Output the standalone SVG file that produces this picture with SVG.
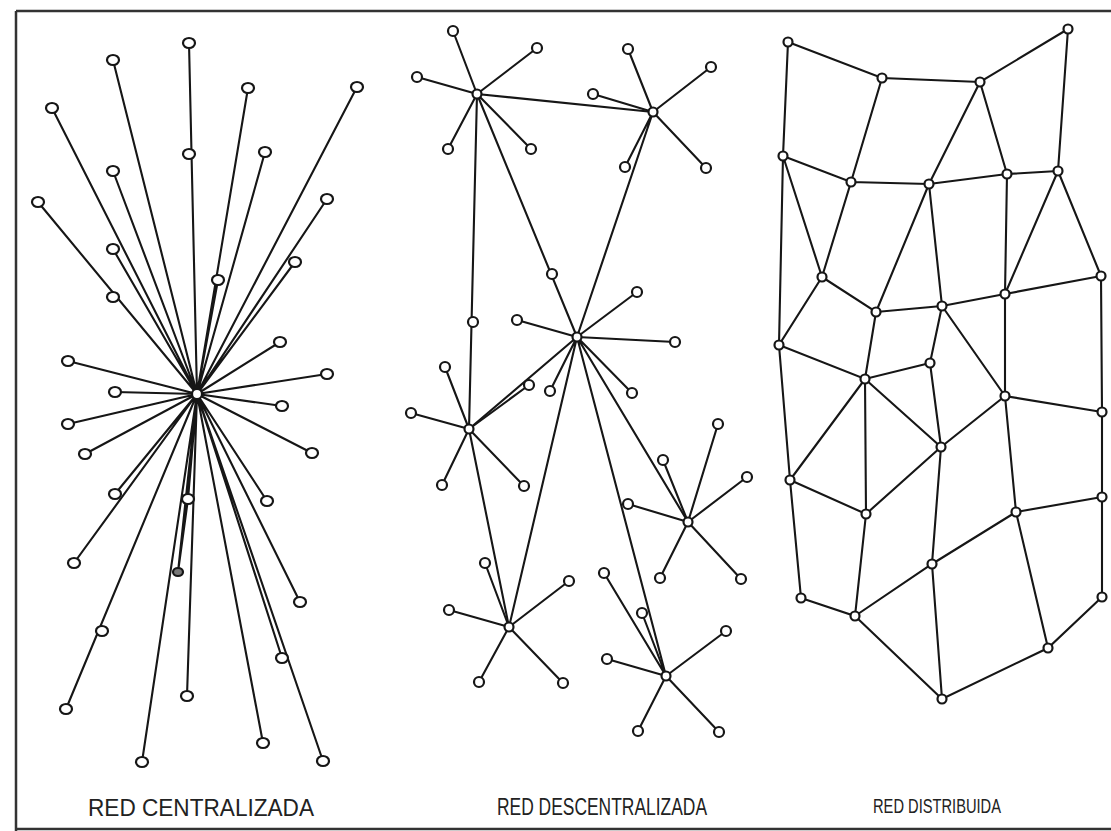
<svg xmlns="http://www.w3.org/2000/svg" width="1111" height="831" viewBox="0 0 1111 831">
<style>
.e{stroke:#161616;stroke-width:2.1;fill:none;stroke-linecap:round}
.n{fill:#fff;stroke:#161616;stroke-width:2.2}
.lab{font-family:"Liberation Sans Narrow","Liberation Sans",Arial,sans-serif;fill:#222}
</style>
<rect width="1111" height="831" fill="#fff"/>
<g id="frame" stroke="#333" stroke-width="2.5" fill="none">
<path d="M16,11 H1111 M16,11 V831 M16,829 H1111"/>
</g>
<g id="connectors" class="e">
<path d="M197,394 L189,43 M197,394 L113,60 M197,394 L52,108 M197,394 L248,88 M197,394 L357,87 M197,394 L265,152 M197,394 L113,171 M197,394 L38,202 M197,394 L327,199 M197,394 L113,249 M197,394 L295,262 M197,394 L218,280 M197,394 L280,342 M197,394 L68,361 M197,394 L327,374 M197,394 L115,392 M197,394 L282,406 M197,394 L68,424 M197,394 L85,454 M197,394 L312,453 M197,394 L115,494 M197,394 L188,499 M197,394 L267,501 M197,394 L178,572 M197,394 L74,563 M197,394 L300,602 M197,394 L66,709 M197,394 L187,696 M197,394 L263,743 M197,394 L142,762 M197,394 L323,761 M197,394 L282,658 M188,499 L178,572"/>
<path d="M477,94 L453,31 M477,94 L537,48 M477,94 L417,77 M477,94 L448,149 M477,94 L531,149 M477,94 L653,112 M477,94 L577,337 M477,94 L469,429"/>
<path d="M653,112 L628,49 M653,112 L711,67 M653,112 L593,94 M653,112 L625,167 M653,112 L706,168 M653,112 L577,337"/>
<path d="M577,337 L637,292 M577,337 L517,320 M577,337 L675,342 M577,337 L550,391 M577,337 L632,393 M577,337 L469,429 M577,337 L688,522 M577,337 L509,627 M577,337 L666,676"/>
<path d="M469,429 L411,413 M469,429 L445,367 M469,429 L529,385 M469,429 L442,485 M469,429 L524,486 M469,429 L509,627"/>
<path d="M688,522 L718,424 M688,522 L663,460 M688,522 L747,477 M688,522 L628,504 M688,522 L660,578 M688,522 L741,579"/>
<path d="M509,627 L485,563 M509,627 L569,581 M509,627 L449,610 M509,627 L479,682 M509,627 L563,683"/>
<path d="M666,676 L604,573 M666,676 L642,613 M666,676 L726,631 M666,676 L607,659 M666,676 L638,731 M666,676 L719,732"/>
<path d="M788,42 L882,78 L980,82 L1068,29 M788,42 L783,156 M1068,29 L1058,171 M882,78 L851,182 M980,82 L929,184 M980,82 L1007,174 M783,156 L851,182 L929,184 L1007,174 L1058,171 M783,156 L822,277 M851,182 L822,277 M929,184 L876,312 M929,184 L942,306 M1058,171 L1005,294 M1058,171 L1101,276 M1007,174 L1005,294 M822,277 L876,312 L942,306 L1005,294 L1101,276 M783,156 L779,345 L790,480 L801,598 M822,277 L779,345 L865,379 L930,363 M942,306 L930,363 L941,447 M876,312 L865,379 M942,306 L1005,396 M1005,294 L1005,396 L1102,412 M1101,276 L1102,412 L1102,497 L1102,597 M865,379 L790,480 M865,379 L866,514 M865,379 L941,447 M1005,396 L941,447 M1005,396 L1016,512 M790,480 L866,514 L941,447 L932,564 M1016,512 L1102,497 M801,598 L855,616 L866,514 M855,616 L932,564 L1016,512 M855,616 L942,699 L1048,648 L1102,597 M932,564 L942,699 M1016,512 L1048,648"/>
</g>
<g id="centralized-nodes">
<circle class="n" cx="197" cy="394" r="5"/>
<ellipse class="n" cx="189" cy="43" rx="6" ry="5"/>
<ellipse class="n" cx="113" cy="60" rx="6" ry="5"/>
<ellipse class="n" cx="52" cy="108" rx="6" ry="5"/>
<ellipse class="n" cx="189" cy="154" rx="6" ry="5"/>
<ellipse class="n" cx="248" cy="88" rx="6" ry="5"/>
<ellipse class="n" cx="357" cy="87" rx="6" ry="5"/>
<ellipse class="n" cx="265" cy="152" rx="6" ry="5"/>
<ellipse class="n" cx="113" cy="171" rx="6" ry="5"/>
<ellipse class="n" cx="38" cy="202" rx="6" ry="5"/>
<ellipse class="n" cx="327" cy="199" rx="6" ry="5"/>
<ellipse class="n" cx="113" cy="249" rx="6" ry="5"/>
<ellipse class="n" cx="295" cy="262" rx="6" ry="5"/>
<ellipse class="n" cx="218" cy="280" rx="6" ry="5"/>
<ellipse class="n" cx="113" cy="297" rx="6" ry="5"/>
<ellipse class="n" cx="280" cy="342" rx="6" ry="5"/>
<ellipse class="n" cx="68" cy="361" rx="6" ry="5"/>
<ellipse class="n" cx="327" cy="374" rx="6" ry="5"/>
<ellipse class="n" cx="115" cy="392" rx="6" ry="5"/>
<ellipse class="n" cx="282" cy="406" rx="6" ry="5"/>
<ellipse class="n" cx="68" cy="424" rx="6" ry="5"/>
<ellipse class="n" cx="85" cy="454" rx="6" ry="5"/>
<ellipse class="n" cx="312" cy="453" rx="6" ry="5"/>
<ellipse class="n" cx="115" cy="494" rx="6" ry="5"/>
<ellipse class="n" cx="188" cy="499" rx="6" ry="5"/>
<ellipse class="n" cx="267" cy="501" rx="6" ry="5"/>
<ellipse class="n" cx="178" cy="572" rx="5" ry="4" style="fill:#777"/>
<ellipse class="n" cx="74" cy="563" rx="6" ry="5"/>
<ellipse class="n" cx="300" cy="602" rx="6" ry="5"/>
<ellipse class="n" cx="102" cy="631" rx="6" ry="5"/>
<ellipse class="n" cx="282" cy="658" rx="6" ry="5"/>
<ellipse class="n" cx="66" cy="709" rx="6" ry="5"/>
<ellipse class="n" cx="187" cy="696" rx="6" ry="5"/>
<ellipse class="n" cx="263" cy="743" rx="6" ry="5"/>
<ellipse class="n" cx="142" cy="762" rx="6" ry="5"/>
<ellipse class="n" cx="323" cy="761" rx="6" ry="5"/>
</g>
<g id="decentralized-nodes">
<circle class="n" cx="477" cy="94" r="4.5"/>
<circle class="n" cx="453" cy="31" r="5"/>
<circle class="n" cx="537" cy="48" r="5"/>
<circle class="n" cx="417" cy="77" r="5"/>
<circle class="n" cx="448" cy="149" r="5"/>
<circle class="n" cx="531" cy="149" r="5"/>
<circle class="n" cx="653" cy="112" r="4.5"/>
<circle class="n" cx="628" cy="49" r="5"/>
<circle class="n" cx="711" cy="67" r="5"/>
<circle class="n" cx="593" cy="94" r="5"/>
<circle class="n" cx="625" cy="167" r="5"/>
<circle class="n" cx="706" cy="168" r="5"/>
<circle class="n" cx="552" cy="274" r="5"/>
<circle class="n" cx="473" cy="322" r="5"/>
<circle class="n" cx="577" cy="337" r="4.5"/>
<circle class="n" cx="637" cy="292" r="5"/>
<circle class="n" cx="517" cy="320" r="5"/>
<circle class="n" cx="675" cy="342" r="5"/>
<circle class="n" cx="529" cy="385" r="5"/>
<circle class="n" cx="550" cy="391" r="5"/>
<circle class="n" cx="632" cy="393" r="5"/>
<circle class="n" cx="469" cy="429" r="4.5"/>
<circle class="n" cx="411" cy="413" r="5"/>
<circle class="n" cx="445" cy="367" r="5"/>
<circle class="n" cx="442" cy="485" r="5"/>
<circle class="n" cx="524" cy="486" r="5"/>
<circle class="n" cx="688" cy="522" r="4.5"/>
<circle class="n" cx="718" cy="424" r="5"/>
<circle class="n" cx="663" cy="460" r="5"/>
<circle class="n" cx="747" cy="477" r="5"/>
<circle class="n" cx="628" cy="504" r="5"/>
<circle class="n" cx="660" cy="578" r="5"/>
<circle class="n" cx="741" cy="579" r="5"/>
<circle class="n" cx="509" cy="627" r="4.5"/>
<circle class="n" cx="485" cy="563" r="5"/>
<circle class="n" cx="569" cy="581" r="5"/>
<circle class="n" cx="449" cy="610" r="5"/>
<circle class="n" cx="479" cy="682" r="5"/>
<circle class="n" cx="563" cy="683" r="5"/>
<circle class="n" cx="666" cy="676" r="4.5"/>
<circle class="n" cx="604" cy="573" r="5"/>
<circle class="n" cx="642" cy="613" r="5"/>
<circle class="n" cx="726" cy="631" r="5"/>
<circle class="n" cx="607" cy="659" r="5"/>
<circle class="n" cx="638" cy="731" r="5"/>
<circle class="n" cx="719" cy="732" r="5"/>
</g>
<g id="distributed-nodes">
<circle class="n" cx="788" cy="42" r="4.5"/>
<circle class="n" cx="882" cy="78" r="4.5"/>
<circle class="n" cx="980" cy="82" r="4.5"/>
<circle class="n" cx="1068" cy="29" r="4.5"/>
<circle class="n" cx="783" cy="156" r="4.5"/>
<circle class="n" cx="851" cy="182" r="4.5"/>
<circle class="n" cx="929" cy="184" r="4.5"/>
<circle class="n" cx="1007" cy="174" r="4.5"/>
<circle class="n" cx="1058" cy="171" r="4.5"/>
<circle class="n" cx="822" cy="277" r="4.5"/>
<circle class="n" cx="876" cy="312" r="4.5"/>
<circle class="n" cx="942" cy="306" r="4.5"/>
<circle class="n" cx="1005" cy="294" r="4.5"/>
<circle class="n" cx="1101" cy="276" r="4.5"/>
<circle class="n" cx="779" cy="345" r="4.5"/>
<circle class="n" cx="865" cy="379" r="4.5"/>
<circle class="n" cx="930" cy="363" r="4.5"/>
<circle class="n" cx="1005" cy="396" r="4.5"/>
<circle class="n" cx="1102" cy="412" r="4.5"/>
<circle class="n" cx="941" cy="447" r="4.5"/>
<circle class="n" cx="790" cy="480" r="4.5"/>
<circle class="n" cx="866" cy="514" r="4.5"/>
<circle class="n" cx="1102" cy="497" r="4.5"/>
<circle class="n" cx="1016" cy="512" r="4.5"/>
<circle class="n" cx="932" cy="564" r="4.5"/>
<circle class="n" cx="801" cy="598" r="4.5"/>
<circle class="n" cx="855" cy="616" r="4.5"/>
<circle class="n" cx="1102" cy="597" r="4.5"/>
<circle class="n" cx="1048" cy="648" r="4.5"/>
<circle class="n" cx="942" cy="699" r="4.5"/>
</g>
<g id="labels">
<text class="lab" x="88" y="816" textLength="226" lengthAdjust="spacingAndGlyphs" font-size="23">RED CENTRALIZADA</text>
<text class="lab" x="497" y="815" textLength="210" lengthAdjust="spacingAndGlyphs" font-size="23">RED DESCENTRALIZADA</text>
<text class="lab" x="873" y="813" textLength="128" lengthAdjust="spacingAndGlyphs" font-size="20">RED DISTRIBUIDA</text>
</g>
</svg>
